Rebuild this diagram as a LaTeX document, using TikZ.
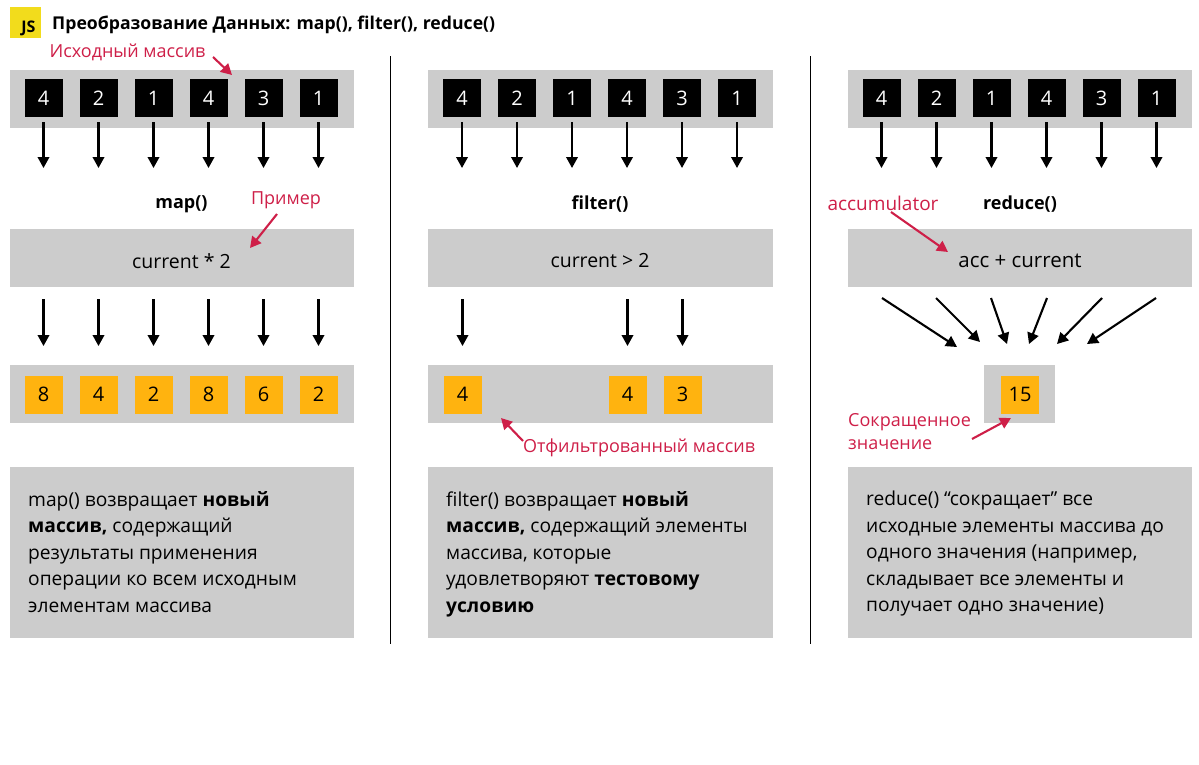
\documentclass[tikz,border=0pt]{standalone}
\usepackage{fontspec}
\setmainfont{Open Sans}
\usetikzlibrary{arrows.meta}
\definecolor{panel}{HTML}{CCCCCC}
\definecolor{amber}{HTML}{FFB30F}
\definecolor{crim}{HTML}{CE1F48}
\definecolor{jsy}{HTML}{F2DC1C}
\tikzset{
 panel/.style={fill=panel,draw=none,inner sep=0pt,minimum height=58pt,anchor=north west},
 srcbox/.style={fill=black,text=white,minimum width=38pt,minimum height=38pt,inner sep=0pt,font=\fontsize{20}{20}\selectfont},
 resbox/.style={fill=amber,text=black,minimum width=38pt,minimum height=38pt,inner sep=0pt,font=\fontsize{20}{20}\selectfont},
 flow/.style={draw=black,line width=2.1pt,-{Triangle[length=11pt,width=11.5pt]}},
 note/.style={draw=crim,line width=2.1pt,-{Triangle[length=11pt,width=11.5pt]}},
 redlabel/.style={text=crim,font=\fontsize{18}{22}\selectfont,inner sep=0pt},
 fnlabel/.style={font=\fontsize{18}{20}\selectfont\bfseries,inner sep=0pt},
 optext/.style={font=\fontsize{19.5}{20}\selectfont,inner sep=0pt},
 desc/.style={anchor=north west,inner sep=0pt,align=left,font=\fontsize{19.2}{26.5}\selectfont},
 sep/.style={draw=black,line width=1pt}
}
\begin{document}
\begin{tikzpicture}[x=1pt,y=-1pt]
\useasboundingbox (0,0) rectangle (1199,764);
% header
\node[fill=jsy,minimum width=31pt,minimum height=31pt,inner sep=0pt] (jsicon) at (25,22.5) {};
\node[font=\fontsize{16}{16}\selectfont\bfseries,inner sep=0pt] (jstext) at (28.5,28.5) {JS};
\node[anchor=west,inner sep=0pt,font=\fontsize{17.65}{20}\selectfont\bfseries] (title) at (52,25) {Преобразование Данных: map(), filter(), reduce()};
% separators
\coordinate (s1a) at (390.5,56); \coordinate (s1b) at (390.5,644);
\coordinate (s2a) at (810,56); \coordinate (s2b) at (810,644);
\draw[sep] (s1a) -- (s1b);
\draw[sep] (s2a) -- (s2b);
% panels
\foreach \p/\ox in {a/0,b/418.5,c/838}{
  \node[panel,minimum width=344.5pt] (top\p) at (9.5+\ox,70) {};
  \node[panel,minimum width=344.5pt] (op\p) at (9.5+\ox,229) {};
  \node[panel,minimum width=344.5pt,minimum height=171pt] (txt\p) at (9.5+\ox,467) {};
  \foreach \i/\v/\cx in {1/4/43.5,2/2/98.5,3/1/153.5,4/4/208.5,5/3/263.5,6/1/318.5}{
    \node[srcbox] (src\p\i) at (\cx+\ox,98) {\v};
    \coordinate (u\p\i) at (\cx+\ox,122);
    \coordinate (v\p\i) at (\cx+\ox,168);
    \draw[flow] (u\p\i) -- (v\p\i);
  }
}
\node[panel,minimum width=344.5pt] (resa) at (9.5,365) {};
\node[panel,minimum width=344.5pt] (resb) at (428,365) {};
\node[panel,minimum width=71pt] (resc) at (984,365) {};
% map
\foreach \i/\v/\cx in {1/8/43.5,2/4/98.5,3/2/153.5,4/8/208.5,5/6/263.5,6/2/318.5}{
  \node[resbox] (ma\i) at (\cx,394.5) {\v};
  \coordinate (mu\i) at (\cx,299);
  \coordinate (mv\i) at (\cx,346);
  \draw[flow] (mu\i) -- (mv\i);
}
% filter
\foreach \i/\v/\cx in {1/4/462.5,4/4/627.5,5/3/682.5}{
  \node[resbox] (fi\i) at (\cx,394.5) {\v};
  \coordinate (fu\i) at (\cx,299);
  \coordinate (fv\i) at (\cx,346);
  \draw[flow] (fu\i) -- (fv\i);
}
% reduce
\node[resbox] (total) at (1020,394.5) {15};
\foreach \i/\ax/\bx/\by in {1/882/957/347,2/936/980/342,3/991/1007/344,4/1047/1029/344,5/1102/1057/344,6/1156/1087/344}{
  \coordinate (ru\i) at (\ax,298);
  \coordinate (rv\i) at (\bx,\by);
  \draw[flow] (ru\i) -- (rv\i);
}
% function names
\node[fnlabel] (fmap) at (181.5,204.5) {map()};
\node[fnlabel] (ffilter) at (600,204.5) {filter()};
\node[fnlabel] (freduce) at (1020,204.5) {reduce()};
% operations
\node[optext] (omap) at (181.5,261) {current * 2};
\node[optext] (ofilter) at (600,261) {current > 2};
\node[optext,font=\fontsize{20.5}{20}\selectfont] (oreduce) at (1020,261) {acc + current};
% red labels
\node[redlabel] (lsrc) at (127.5,52) {Исходный массив};
\node[redlabel] (lex) at (286,200.5) {Пример};
\node[redlabel,font=\fontsize{19}{22}\selectfont] (lacc) at (883,203.5) {accumulator};
\node[redlabel] (lflt) at (639,447.5) {Отфильтрованный массив};
\node[redlabel,anchor=north west,align=left,font=\fontsize{18}{23.5}\selectfont] (lred) at (848,413) {Сокращенное\\значение};
\coordinate (n1a) at (213,57); \coordinate (n1b) at (232,75);
\coordinate (n2a) at (277,214); \coordinate (n2b) at (250,248);
\coordinate (n3a) at (891,212); \coordinate (n3b) at (948,252);
\coordinate (n4a) at (972,439); \coordinate (n4b) at (1011,418);
\coordinate (n5a) at (523,441); \coordinate (n5b) at (501,418);
\draw[note] (n1a) -- (n1b);
\draw[note] (n2a) -- (n2b);
\draw[note] (n3a) -- (n3b);
\draw[note] (n4a) -- (n4b);
\draw[note] (n5a) -- (n5b);
% descriptions
\node[desc] (da) at (28,491) {map() возвращает \textbf{новый}\\\textbf{массив,} содержащий\\результаты применения\\операции ко всем исходным\\элементам массива};
\node[desc] (db) at (446,491) {filter() возвращает \textbf{новый}\\\textbf{массив,} содержащий элементы\\массива, которые\\удовлетворяют \textbf{тестовому}\\\textbf{условию}};
\node[desc] (dc) at (866,491) {reduce() “сокращает” все\\исходные элементы массива до\\одного значения (например,\\складывает все элементы и\\получает одно значение)};
\end{tikzpicture}
\end{document}
